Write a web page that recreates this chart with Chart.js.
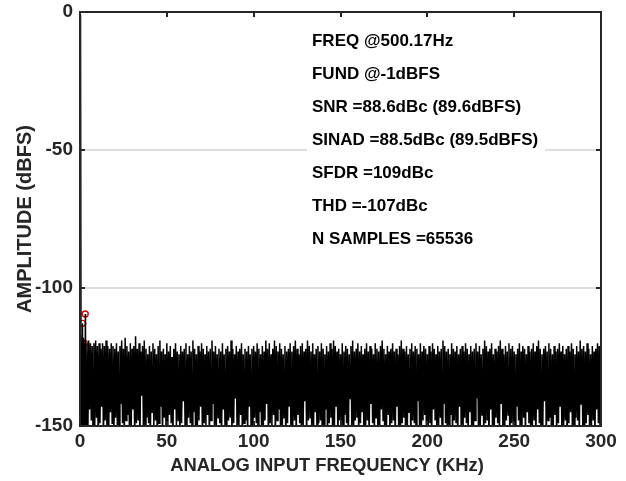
<!DOCTYPE html>
<html><head><meta charset="utf-8">
<script src="https://cdn.jsdelivr.net/npm/chart.js@4/dist/chart.umd.min.js"></script>
<style>html,body{margin:0;padding:0;background:#fff}#wrap{width:626px;height:481px}</style>
</head><body><div id="wrap"><canvas id="c" width="626" height="481"></canvas></div>
<script>
const xTicks = [0, 50, 100, 150, 200, 250, 300];
const yTicks = [0, -50, -100, -150];
const xTitle = 'ANALOG INPUT FREQUENCY (KHz)';
const yTitle = 'AMPLITUDE (dBFS)';
const infoLines = ['FREQ @500.17Hz', 'FUND @-1dBFS', 'SNR =88.6dBc (89.6dBFS)', 'SINAD =88.5dBc (89.5dBFS)', 'SFDR =109dBc', 'THD =-107dBc', 'N SAMPLES =65536'];

// noise floor: one peak and one trough per kHz bin
const noiseStartKHz = 0;
const noiseStepKHz = 1;
const noisePeaks = [
-117,-119,-118,-119,-120,-119,-120,-121,-120,-119,-121,-120,-122,-120,-121,-119,-121,-122,-120,-121,
-122,-120,-123,-121,-119,-122,-118,-121,-123,-120,-122,-121,-117.5,-122,-120,-123,-121,-119,-122,-124,
-121,-123,-120,-122,-124,-121,-119,-123,-122,-124,-120,-123,-121,-125,-122,-120,-123,-124,-121,-123,
-122,-120,-124,-121,-123,-119,-122,-124,-121,-123,-120,-122,-124,-121,-123,-122,-119,-123,-121,-124,
-122,-123,-120,-124,-122,-121,-123,-119,-122,-124,-121,-123,-122,-120,-124,-122,-123,-121,-124,-122,
-121,-123,-120,-122,-124,-121,-123,-119,-122,-120,-124,-122,-119,-121,-123,-120,-122,-124,-121,-123,
-122,-120,-123,-121,-119,-122,-124,-121,-120,-123,-122,-119,-121,-123,-120,-124,-122,-121,-123,-120,
-122,-124,-121,-123,-120,-122,-119,-121,-123,-122,-124,-120,-123,-121,-122,-124,-121,-119,-123,-122,
-120,-123,-121,-124,-122,-120,-123,-121,-122,-124,-120,-122,-123,-121,-119,-122,-124,-121,-123,-122,
-120,-123,-122,-124,-121,-119,-122,-123,-121,-124,-122,-120,-123,-121,-122,-124,-120,-123,-121,-122,
-124,-121,-123,-120,-122,-124,-121,-123,-122,-119,-121,-123,-122,-124,-120,-122,-123,-121,-124,-122,
-121,-123,-120,-122,-124,-121,-123,-122,-120,-123,-121,-124,-122,-119,-121,-123,-122,-120,-124,-122,
-123,-121,-119,-122,-124,-121,-123,-120,-122,-121,-123,-124,-122,-120,-123,-121,-122,-124,-121,-123,
-122,-120,-123,-121,-119,-122,-124,-122,-121,-123,-120,-122,-124,-121,-123,-122,-120,-123,-121,-124,
-122,-121,-123,-120,-122,-124,-121,-123,-119,-122,-121,-123,-120,-122,-124,-121,-123,-122,-120,-121
];
const noiseTroughs = [
-149,-156,-146,-150,-157,-144,-148,-155,-150,-147,-158,-149,-143,-156,-148,-150,-157,-145,-149,-155,
-147,-150,-156,-142,-149,-157,-148,-146,-155,-150,-144,-156,-149,-148,-157,-139,-150,-155,-147,-149,
-156,-145,-150,-148,-157,-149,-143,-155,-147,-150,-156,-146,-149,-157,-144,-150,-148,-155,-149,-141,
-150,-156,-147,-149,-155,-145,-150,-157,-148,-143,-156,-149,-150,-146,-157,-148,-142,-155,-150,-147,
-149,-157,-144,-150,-156,-148,-147,-155,-149,-140,-157,-150,-146,-156,-149,-148,-155,-143,-150,-157,
-147,-149,-156,-145,-150,-155,-148,-142,-157,-149,-150,-146,-156,-148,-144,-155,-150,-147,-157,-149,
-143,-156,-150,-148,-155,-146,-149,-157,-150,-141,-156,-148,-147,-155,-150,-145,-157,-149,-148,-156,
-150,-144,-155,-149,-147,-157,-150,-143,-156,-148,-150,-155,-146,-149,-157,-140,-150,-156,-148,-147,
-155,-149,-145,-157,-150,-148,-156,-142,-149,-155,-147,-150,-157,-144,-148,-156,-150,-146,-155,-149,
-148,-157,-143,-150,-156,-149,-147,-155,-150,-145,-157,-148,-149,-156,-141,-150,-155,-148,-146,-157,
-150,-149,-156,-144,-148,-155,-150,-147,-157,-142,-149,-156,-150,-146,-155,-148,-149,-157,-143,-150,
-156,-147,-149,-155,-145,-150,-157,-148,-140,-156,-150,-146,-155,-149,-148,-157,-144,-150,-156,-147,
-149,-155,-142,-150,-157,-148,-146,-156,-149,-150,-155,-143,-148,-157,-150,-147,-156,-145,-149,-155,
-150,-148,-157,-144,-149,-156,-150,-141,-155,-148,-147,-157,-150,-146,-156,-149,-143,-155,-150,-148,
-157,-149,-145,-150,-156,-147,-148,-155,-142,-150,-157,-149,-146,-156,-150,-148,-155,-144,-149,-156
];
// low-frequency part of the spectrum (fundamental and harmonics)
const lowFreqKHz   = [0, 0.25, 0.5, 0.75, 1.0, 1.25, 1.5, 1.75, 2.0, 2.25, 2.5, 2.75, 3.0, 3.25];
const lowFreqLevel = [-130, -155, -1, -155, -124, -155, -112.8, -155, -121, -155, -120, -155, -109.4, -155];
const harmonicFreqKHz = [1.0, 1.5, 2.5, 3.0];
const harmonicLevel   = [-124, -112.8, -120, -109.4];

const FONT = "'Liberation Sans', Arial, sans-serif";
const AXC = '#262626';

const noisePts = [];
for (let i = 0; i < noisePeaks.length; i++) {
  const f = noiseStartKHz + i * noiseStepKHz;
  noisePts.push({x: f, y: noisePeaks[i]});
  noisePts.push({x: f + noiseStepKHz / 2, y: noiseTroughs[i]});
}
noisePts.push({x: 300, y: noisePeaks[noisePeaks.length - 1]});
const lowPts = lowFreqKHz.map((f, i) => ({x: f, y: lowFreqLevel[i]}));
const harmPts = harmonicFreqKHz.map((f, i) => ({x: f, y: harmonicLevel[i]}));

const framePlugin = {
  id: 'frame',
  afterDatasetsDraw(chart) {
    const {ctx, scales: {x, y}} = chart;
    ctx.save();
    const bx = x.getPixelForValue(130.7), by = y.getPixelForValue(-3.6);
    ctx.fillStyle = '#fff';
    ctx.fillRect(bx, by, 238, 236);
    ctx.fillStyle = '#000';
    ctx.font = "bold 17px " + FONT;
    ctx.textBaseline = 'middle';
    infoLines.forEach((t, i) => ctx.fillText(t, bx + 5, by + 19 + i * 33));
    ctx.restore();
  },
  afterDraw(chart) {
    const {ctx, chartArea: a, scales: {x, y}} = chart;
    ctx.save();
    ctx.strokeStyle = AXC;
    ctx.lineWidth = 2;
    ctx.beginPath();
    xTicks.slice(1, -1).forEach(v => {
      const px = Math.round(x.getPixelForValue(v));
      ctx.moveTo(px, a.top); ctx.lineTo(px, a.top + 5);
      ctx.moveTo(px, a.bottom); ctx.lineTo(px, a.bottom - 5);
    });
    yTicks.slice(1, -1).forEach(v => {
      const py = Math.round(y.getPixelForValue(v));
      ctx.moveTo(a.left, py); ctx.lineTo(a.left + 5, py);
      ctx.moveTo(a.right, py); ctx.lineTo(a.right - 5, py);
    });
    ctx.stroke();
    ctx.strokeRect(a.left, a.top, a.right - a.left, a.bottom - a.top);
    // x axis title (centred slightly left of the plot centre, as in the original)
    ctx.fillStyle = AXC;
    ctx.font = "bold 18.4px " + FONT;
    ctx.textAlign = 'center';
    ctx.textBaseline = 'middle';
    ctx.fillText(xTitle, 327, 466);
    ctx.restore();
  }
};

new Chart(document.getElementById('c'), {
  type: 'line',
  data: {
    datasets: [
      {data: noisePts, borderColor: '#000', borderWidth: 1.5, pointRadius: 0, fill: false, tension: 0},
      {data: lowPts, borderColor: '#000', borderWidth: 1.2, pointRadius: 0, fill: false, tension: 0},
      {data: harmPts, showLine: false, pointRadius: 3, pointBorderWidth: 1.4,
       pointBorderColor: '#d80000', pointBackgroundColor: 'rgba(0,0,0,0)', pointStyle: 'circle'}
    ]
  },
  options: {
    responsive: false, animation: false, devicePixelRatio: 1,
    layout: {padding: {top: 12, right: 25, left: 0, bottom: 0}},
    plugins: {legend: {display: false}, tooltip: {enabled: false}},
    scales: {
      x: {
        type: 'linear', min: 0, max: 300,
        afterBuildTicks: s => { s.ticks = xTicks.map(v => ({value: v})); },
        afterFit: s => { s.height = 55; s.paddingLeft = 0; s.paddingRight = 0; },
        ticks: {color: AXC, font: {family: FONT, size: 19, weight: 'bold'}, padding: 4, maxRotation: 0, autoSkip: false},
        grid: {display: false, drawTicks: false},
        border: {display: false},
        title: {display: false}
      },
      y: {
        type: 'linear', min: -150, max: 0,
        afterBuildTicks: s => { s.ticks = yTicks.map(v => ({value: v})); },
        afterFit: s => { s.width = 80; s.paddingTop = 0; s.paddingBottom = 0; },
        ticks: {color: AXC, font: {family: FONT, size: 19, weight: 'bold'}, padding: 7, autoSkip: false},
        grid: {drawTicks: false, lineWidth: 2,
               color: c => (c.tick && (c.tick.value === 0 || c.tick.value === -150)) ? 'rgba(0,0,0,0)' : '#dedede'},
        border: {display: false},
        title: {display: true, text: yTitle, color: AXC, font: {family: FONT, size: 20, weight: 'bold'}, padding: {top: 13, bottom: 0}}
      }
    }
  },
  plugins: [framePlugin]
});
</script></body></html>
